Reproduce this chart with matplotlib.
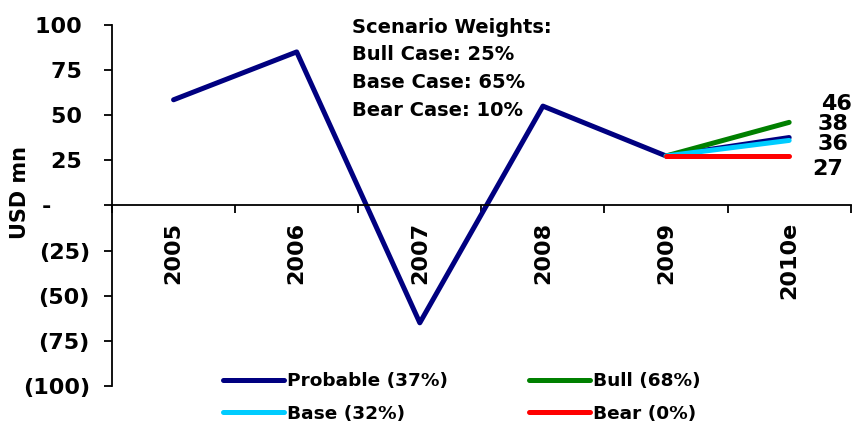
import numpy as np
import matplotlib.pyplot as plt
from matplotlib.ticker import FixedLocator

years = ["2005", "2006", "2007", "2008", "2009", "2010e"]
probable = [58.5, 85.0, -65.0, 55.0, 27.4, 37.6]
bull = [27.4, 46.0]
base = [27.4, 36.0]
bear = [27.4, 27.4]
end_labels = ["46", "38", "36", "27"]
legend_names = ["Probable (37%)", "Base (32%)", "Bull (68%)", "Bear (0%)"]
yticks = [100, 75, 50, 25, 0, -25, -50, -75, -100]
weights_text = "Scenario Weights:\nBull Case: 25%\nBase Case: 65%\nBear Case: 10%"

plt.rcParams['font.family'] = 'DejaVu Sans'
plt.rcParams['font.weight'] = 'bold'

fig = plt.figure(figsize=(8.55, 4.28), dpi=100)
ax = fig.add_axes([0.131, 0.098, 0.864, 0.844])

x = np.arange(len(years))
lw = 3.6
l_prob, = ax.plot(x, probable, color='#000080', lw=lw, solid_capstyle='round')
l_bull, = ax.plot(x[-2:], bull, color='#008000', lw=lw, solid_capstyle='round')
l_base, = ax.plot(x[-2:], base, color='#00CCFF', lw=lw, solid_capstyle='round')
l_bear, = ax.plot(x[-2:], bear, color='#FF0000', lw=lw, solid_capstyle='round')

ax.set_xlim(-0.5, len(years) - 0.5)
ax.set_ylim(-100, 100)

ax.spines['top'].set_visible(False)
ax.spines['right'].set_visible(False)
ax.spines['bottom'].set_position(('data', 0))
for s in ('left', 'bottom'):
    ax.spines[s].set_linewidth(1.3)

def fmt(v):
    if v > 0:
        return f"{v} "
    if v < 0:
        return f"({-v})"
    return "-     "

ax.set_yticks(yticks)
ax.set_yticklabels([fmt(v) for v in yticks], fontsize=16, fontweight='bold')
ax.tick_params(axis='y', length=6, width=1.3, pad=10)

ax.set_xticks(x)
ax.set_xticklabels(years, rotation=90, fontsize=16, fontweight='bold', va='top')
ax.tick_params(axis='x', which='major', length=0, pad=12)
ax.xaxis.set_minor_locator(FixedLocator(np.arange(-0.5, len(years), 1.0)))
ax.tick_params(axis='x', which='minor', length=6, width=1.3, direction='out')

ax.set_ylabel("USD mn", fontsize=15, fontweight='bold')
ax.yaxis.set_label_coords(-0.111, 0.537)

ax.text(1.45, 104, weights_text, fontsize=14, fontweight='bold',
        va='top', ha='left', linespacing=1.58)

end_y = [56, 45, 34, 20]
end_x = [5.26, 5.23, 5.23, 5.19]
for lx, ly, t in zip(end_x, end_y, end_labels):
    ax.text(lx, ly, t, fontsize=16, fontweight='bold', va='center', ha='left')

fig.legend([l_prob, l_base, l_bull, l_bear], legend_names, ncol=2,
           loc='lower left', bbox_to_anchor=(0.241, -0.027), frameon=False,
           prop={'size': 13.3, 'weight': 'bold'}, handlelength=3.3,
           handletextpad=0.2, columnspacing=4.35, labelspacing=0.8)

fig.savefig("out.png", dpi=100)
